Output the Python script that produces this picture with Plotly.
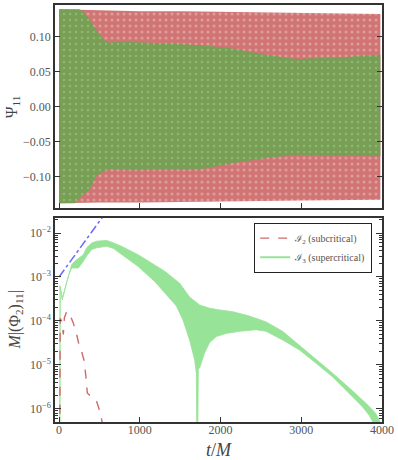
import plotly.graph_objects as go
from plotly.subplots import make_subplots

# ---- top panel: envelopes of the fast oscillating Psi_11 signals ----
t_red = [0, 500, 1000, 1500, 2000, 2500, 3000, 3500, 3980]
red_hi = [0.139, 0.137, 0.136, 0.136, 0.135, 0.134, 0.133, 0.133, 0.132]
red_lo = [-0.138, -0.137, -0.137, -0.136, -0.136, -0.135, -0.134, -0.134, -0.133]

t_grn_hi = [0, 250, 300, 350, 400, 450, 510, 570, 630, 690, 750, 1120, 1740, 2150, 2560, 2940, 3180, 3590, 3980]
grn_hi = [0.139, 0.139, 0.136, 0.129, 0.121, 0.111, 0.102, 0.094, 0.091, 0.092, 0.093, 0.091, 0.088, 0.083, 0.074, 0.068, 0.069, 0.071, 0.074]
t_grn_lo = [0, 200, 260, 380, 460, 540, 630, 900, 1740, 2150, 2560, 2940, 3380, 3980]
grn_lo = [-0.138, -0.138, -0.130, -0.119, -0.100, -0.093, -0.090, -0.091, -0.090, -0.081, -0.074, -0.069, -0.070, -0.071]

# ---- bottom panel ----
# I2 (subcritical), dashed red
t_sub = [10, 14, 33, 45, 53, 66, 95, 136, 177, 218, 247, 280, 310, 333, 350, 383, 424, 465, 506, 545]
phi_sub = [3e-7, 1.15e-4, 1.0e-4, 6e-5, 4.9e-5, 1.17e-4, 1.66e-4, 1.38e-4, 8.9e-5, 4.9e-5,
           2.9e-5, 2.0e-5, 1.26e-5, 5.4e-6, 2.3e-6, 2.0e-6, 1.86e-6, 1.48e-6, 8.7e-7, 4e-7]

# I3 (supercritical): upper / lower envelope of the oscillating curve
t_sup_hi = [10, 12, 40, 74, 115, 156, 198, 300, 342, 404, 465, 589, 671, 773, 980, 1185, 1309,
            1494, 1617, 1741, 1864, 1988, 2152, 2358, 2564, 2769, 2975, 3181, 3386, 3593, 3799,
            3922, 3990]
sup_hi = [1e-7, 6.3e-4, 3.3e-4, 5.6e-4, 1.12e-3, 1.9e-3, 2.3e-3, 3.2e-3, 4.6e-3, 5.9e-3, 6.5e-3,
          6.8e-3, 6.0e-3, 5.0e-3, 3.2e-3, 1.9e-3, 1.35e-3, 7.2e-4, 3.5e-4, 2.3e-4, 1.95e-4, 1.78e-4,
          1.62e-4, 1.29e-4, 9.5e-5, 5.8e-5, 2.8e-5, 1.41e-5, 6.5e-6, 3.0e-6, 1.35e-6, 7.9e-7, 4.5e-7]
t_sup_lo = [10, 14, 40, 74, 115, 156, 198, 238, 280, 342, 404, 465, 589, 671, 773, 980, 1185, 1309,
            1453, 1535, 1617, 1679, 1700, 1708, 1716, 1725, 1741, 1802, 1864, 1947, 2070, 2235, 2441,
            2564, 2769, 2975, 3181, 3386, 3593, 3757, 3840, 3901]
sup_lo = [1e-7, 6.0e-4, 3.0e-4, 5.0e-4, 1.05e-3, 1.6e-3, 1.6e-3, 1.6e-3, 2.0e-3, 3.0e-3, 4.2e-3,
          4.6e-3, 5.0e-3, 4.5e-3, 3.2e-3, 1.74e-3, 7.9e-4, 4.5e-4, 2.2e-4, 1.05e-4, 3.7e-5, 1.3e-5,
          6.5e-6, 1e-7, 1e-7, 8e-6, 8.5e-6, 1.86e-5, 3.2e-5, 4.4e-5, 5.2e-5, 5.8e-5, 6.3e-5, 5.8e-5,
          3.7e-5, 2.2e-5, 1.1e-5, 5.4e-6, 2.3e-6, 1.12e-6, 7.2e-7, 4.5e-7]

# exponential growth guide (dash-dot blue)
t_fit = [0, 600]
phi_fit = [1.0e-3, 3.3e-2]

x_ticks = [0, 1000, 2000, 3000, 4000]
psi_ticks = [-0.10, -0.05, 0.00, 0.05, 0.10]
log_ticks = [1e-6, 1e-5, 1e-4, 1e-3, 1e-2]
log_labels = ["10<sup>\u22126</sup>", "10<sup>\u22125</sup>", "10<sup>\u22124</sup>",
              "10<sup>\u22123</sup>", "10<sup>\u22122</sup>"]

RED = "#d07474"
OLIVE = "#7a9e56"
LGREEN = "#97e397"
FONT = "'Liberation Serif', 'DejaVu Serif', serif"
FRAME = "#333333"
TXT = "#555555"

fig = make_subplots(rows=2, cols=1, shared_xaxes=True, vertical_spacing=0.025)

fig.add_trace(go.Scatter(x=t_red + t_red[::-1], y=red_hi + red_lo[::-1], mode="lines",
                         fill="toself", fillcolor=RED, line=dict(width=0),
                         fillpattern=dict(shape=".", fgcolor="rgba(255,255,255,0.6)", bgcolor=RED,
                                          size=6, solidity=0.2),
                         showlegend=False, hoverinfo="skip"), row=1, col=1)
fig.add_trace(go.Scatter(x=t_grn_hi + t_grn_lo[::-1], y=grn_hi + grn_lo[::-1], mode="lines",
                         fill="toself", fillcolor=OLIVE, line=dict(width=0),
                         fillpattern=dict(shape=".", fgcolor="rgba(150,235,150,0.8)", bgcolor=OLIVE,
                                          size=6, solidity=0.12),
                         showlegend=False, hoverinfo="skip"), row=1, col=1)

fig.add_trace(go.Scatter(x=t_sup_hi + t_sup_lo[::-1], y=sup_hi + sup_lo[::-1], mode="lines",
                         fill="toself", fillcolor=LGREEN, line=dict(width=0.8, color=LGREEN),
                         showlegend=False, hoverinfo="skip"), row=2, col=1)
fig.add_trace(go.Scatter(x=t_sub, y=phi_sub, mode="lines",
                         line=dict(color="#d06a6a", width=1.4, dash="dash"),
                         name="\u2110<sub>2</sub> (subcritical)"), row=2, col=1)
fig.add_trace(go.Scatter(x=[None], y=[None], mode="lines",
                         line=dict(color=LGREEN, width=2),
                         name="\u2110<sub>3</sub> (supercritical)"), row=2, col=1)
fig.add_trace(go.Scatter(x=t_fit, y=phi_fit, mode="lines",
                         line=dict(color="#6a6aff", width=1.5, dash="dashdot"),
                         showlegend=False, hoverinfo="skip"), row=2, col=1)

axis_common = dict(showline=True, linecolor=FRAME, linewidth=1.5, ticks="inside",
                   tickcolor=FRAME, showgrid=False, zeroline=False, automargin=False,
                   tickfont=dict(family=FONT, size=12, color=TXT))

fig.update_xaxes(range=[-50, 4000], tickvals=x_ticks, ticklen=5, mirror=True, **axis_common)
fig.update_xaxes(showticklabels=False, row=1, col=1)
fig.update_xaxes(ticklabelstandoff=-4, row=2, col=1)

fig.update_yaxes(range=[-0.145, 0.145], tickvals=psi_ticks, tickformat=".2f", ticklen=5,
                 mirror="ticks", row=1, col=1, **axis_common)

minor_vals = [m * 10.0 ** e for e in range(-7, -1) for m in range(2, 10)]
fig.update_yaxes(type="log", range=[-6.3, -1.66], tickvals=log_ticks, ticktext=log_labels,
                 ticklen=6, mirror="ticks",
                 minor=dict(tickvals=minor_vals, ticks="inside", ticklen=3, tickcolor=FRAME, showgrid=False),
                 row=2, col=1, **axis_common)

# axis titles as annotations (paper coords; plot area 327 x 417 px)
title_font = dict(family=FONT, size=16, color="#444")
fig.add_annotation(text="\u03a8<sub>11</sub>", x=-0.131, y=0.755, xref="paper", yref="paper",
                   xanchor="center", yanchor="middle", textangle=-90, showarrow=False, font=title_font)
fig.add_annotation(text="<i>M</i>|(\u03a6<sub>2</sub>)<sub>11</sub>|", x=-0.12, y=0.245,
                   xref="paper", yref="paper", xanchor="center", yanchor="middle",
                   textangle=-90, showarrow=False, font=title_font)
fig.add_annotation(text="<i>t</i>/<i>M</i>", x=0.50, y=-0.038, xref="paper", yref="paper",
                   xanchor="center", yanchor="top", showarrow=False,
                   font=dict(family=FONT, size=18, color="#444"))

fig.update_layout(
    width=398, height=460,
    margin=dict(l=55, r=16, t=5, b=38),
    paper_bgcolor="white", plot_bgcolor="white",
    font=dict(family=FONT, color=TXT),
    showlegend=True,
    legend=dict(x=0.97, y=0.478, xanchor="right", yanchor="top",
                bgcolor="white", bordercolor="#222", borderwidth=1,
                font=dict(family=FONT, size=10, color=TXT),
                tracegroupgap=0, itemwidth=30),
)
fig.update_layout(yaxis=dict(domain=[0.513, 1.0]), yaxis2=dict(domain=[0.0, 0.489]))

# drop the page's default body margin so the 398x460 figure fills the window
fig.write_html("out.html", config={"displayModeBar": False},
               post_script="document.body.style.margin='0';document.body.style.overflow='hidden';")
